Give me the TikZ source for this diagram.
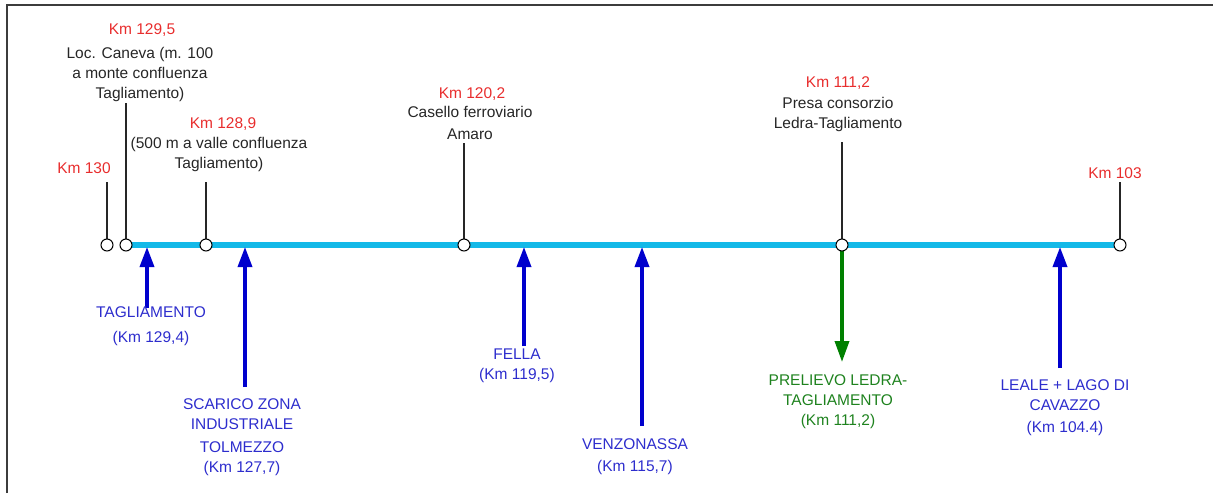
\documentclass[tikz,border=0pt]{standalone}
\usepackage{fontspec}
\setmainfont{Liberation Sans}
\usetikzlibrary{arrows.meta}
\definecolor{river}{RGB}{20,185,232}
\definecolor{kmred}{RGB}{232,45,45}
\definecolor{inblue}{RGB}{0,0,205}
\definecolor{txtblue}{RGB}{45,45,205}
\definecolor{outgreen}{RGB}{0,128,0}
\definecolor{txtgreen}{RGB}{30,130,30}
\definecolor{framegray}{RGB}{60,60,60}
\begin{document}
\begin{tikzpicture}[x=1pt,y=-1pt,
  lbl/.style={font=\fontsize{15.5}{20}\selectfont, align=center, inner sep=0pt, anchor=north, text=black!85},
  kmlbl/.style={lbl, text=kmred},
  inlbl/.style={lbl, text=txtblue},
  outlbl/.style={lbl, text=txtgreen},
  station/.style={circle, draw=black, fill=white, line width=1pt, minimum size=12pt, inner sep=0pt},
  tick/.style={draw=black!85, line width=1.2pt},
  inflow/.style={draw=inblue, line width=3.5pt, -{Triangle[length=20pt,width=14pt]}},
  outflow/.style={draw=outgreen, line width=3.5pt, -{Triangle[length=21pt,width=14pt]}}
]
\useasboundingbox (0,0) rectangle (1213,493);
\draw[framegray, line width=2pt] (7,493) -- (7,5) -- (1213,5);

% stations
\coordinate (s130) at (107,245);
\coordinate (s1295) at (126,245);
\coordinate (s1289) at (206,245);
\coordinate (s1202) at (464,245);
\coordinate (s1112) at (842,245);
\coordinate (s103) at (1120,245);

% river line
\draw[river, line width=5.5pt] (s1295) -- (s103);

% tick tops
\coordinate (k130) at (107,182);
\coordinate (k1295) at (126,103);
\coordinate (k1289) at (206,182);
\coordinate (k1202) at (464,143);
\coordinate (k1112) at (842,142);
\coordinate (k103) at (1120,182);
\foreach \s in {130,1295,1289,1202,1112,103} \draw[tick] (s\s) -- (k\s);

% inflow arrows
\coordinate (f1) at (147,308);
\coordinate (e1) at (147,247);
\coordinate (f2) at (245,387);
\coordinate (e2) at (245,247);
\coordinate (f3) at (524,346);
\coordinate (e3) at (524,247);
\coordinate (f4) at (642,426);
\coordinate (e4) at (642,247);
\coordinate (f5) at (1060,368);
\coordinate (e5) at (1060,247);
\foreach \i in {1,...,5} \draw[inflow] (f\i) -- (e\i);

% outflow
\coordinate (o1) at (842,250);
\coordinate (o2) at (842,362);
\draw[outflow] (o1) -- (o2);

% station circles
\foreach \s in {130,1295,1289,1202,1112,103} \node[station] (c\s) at (s\s) {};

% top labels
\node[kmlbl] (r130) at (84,162.5) {Km 130};
\node[kmlbl] (r1295) at (142,23.5) {Km 129,5};
\node[lbl] (t1295) at (140,47.5) {Loc. Caneva (m. 100\\a monte confluenza\\Tagliamento)};
\node[kmlbl] (r1289) at (223,117.5) {Km 128,9};
\node[lbl] (t1289) at (219,137.5) {(500 m a valle confluenza\\Tagliamento)};
\node[kmlbl] (r1202) at (472,87.5) {Km 120,2};
\node[lbl] (t1202) at (470,106.5) {Casello ferroviario\\[2pt]Amaro};
\node[kmlbl] (r1112) at (838,76.5) {Km 111,2};
\node[lbl] (t1112) at (838,97.5) {Presa consorzio\\Ledra-Tagliamento};
\node[kmlbl] (r103) at (1115,167.5) {Km 103};

% bottom labels
\node[inlbl] (b1) at (151,306.5) {TAGLIAMENTO\\[5pt](Km 129,4)};
\node[inlbl] (b2) at (242,398.5) {SCARICO ZONA\\INDUSTRIALE\\[3pt]TOLMEZZO\\(Km 127,7)};
\node[inlbl] (b3) at (517,348.5) {FELLA\\(Km 119,5)};
\node[inlbl] (b4) at (635,438.5) {VENZONASSA\\[2pt](Km 115,7)};
\node[outlbl] (b5) at (838,374.5) {PRELIEVO LEDRA-\\TAGLIAMENTO\\(Km 111,2)};
\node[inlbl] (b6) at (1065,379.5) {LEALE + LAGO DI\\CAVAZZO\\[2pt](Km 104.4)};
\end{tikzpicture}
\end{document}
